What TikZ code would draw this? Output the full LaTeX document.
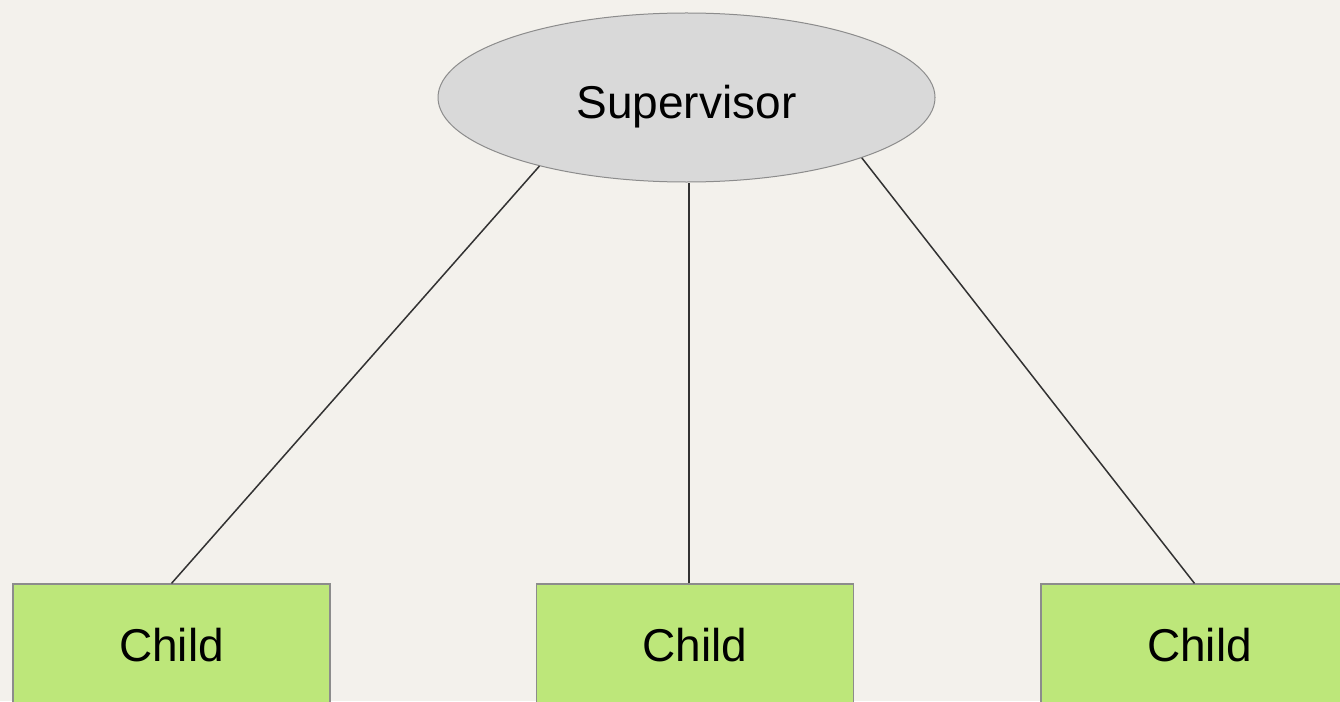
\documentclass[tikz,border=0pt]{standalone}
\usepackage{fontspec}
\setmainfont{Liberation Sans}
\usetikzlibrary{shapes.geometric}

\definecolor{bgpaper}{RGB}{243,241,236}
\definecolor{supgray}{RGB}{217,217,217}
\definecolor{childgreen}{RGB}{189,231,122}
\definecolor{rimgray}{RGB}{140,140,140}
\definecolor{linkgray}{RGB}{50,50,50}

\begin{document}
\begin{tikzpicture}[x=1bp,y=-1bp,
  supervisor/.style={ellipse,draw=rimgray,fill=supgray,line width=1bp,
    inner sep=0pt,minimum width=497bp,minimum height=169bp,
    text height=42bp,text depth=0pt,
    font=\fontsize{46bp}{55bp}\selectfont},
  child/.style={rectangle,draw=rimgray,fill=childgreen,line width=1.2bp,
    inner sep=0pt,minimum width=317bp,minimum height=122bp,
    font=\fontsize{46bp}{55bp}\selectfont},
  link/.style={draw=linkgray,line width=1.5bp}
]

% Paper
\fill[bgpaper] (0,0) rectangle (1340,701);
\useasboundingbox (0,0) rectangle (1340,701);

% Supervisor
\node[supervisor] (sup) at (686.5,97.5) {Supervisor};

% Children
\node[child] (left) at (171.5,645) {Child};
\node[child] (mid) at (695,645) {Child};
\node[child] (right) at (1199.5,645) {Child};

% Links
\draw[link] (left.north) -- (sup.205);
\draw[link] ([xshift=-6bp]mid.north) -- ([xshift=-6bp]mid.north |- sup.south);
\draw[link] ([xshift=-5bp]right.north) -- (sup.341);

\end{tikzpicture}
\end{document}
